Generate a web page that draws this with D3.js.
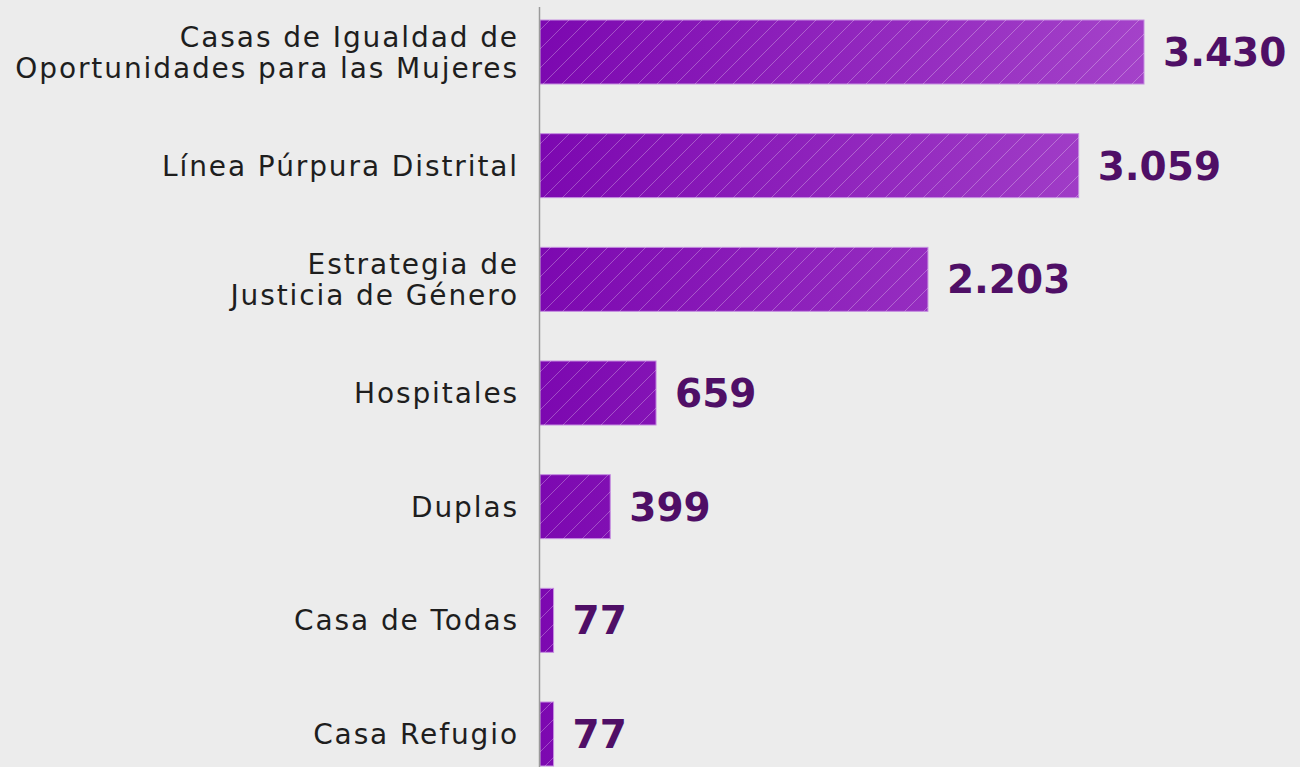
<!DOCTYPE html>
<html>
<head>
<meta charset="utf-8">
<script src="https://cdn.jsdelivr.net/npm/d3@7"></script>
<style>
  html, body { margin: 0; padding: 0; background: #ececec; }
  svg { display: block; }
</style>
</head>
<body>
<div id="chart"></div>
<script>
// data
var categories = [
  "Casas de Igualdad de|Oportunidades para las Mujeres",
  "Línea Púrpura Distrital",
  "Estrategia de|Justicia de Género",
  "Hospitales",
  "Duplas",
  "Casa de Todas",
  "Casa Refugio"
];
var values = [3430, 3059, 2203, 659, 399, 77, 77];
var valueLabels = ["3.430", "3.059", "2.203", "659", "399", "77", "77"];

const width = 1300, height = 767;
const axisX = 540;

var svg = d3.select("#chart").append("svg")
  .attr("width", width)
  .attr("height", height);

// paper-ish background
svg.append("rect").attr("width", width).attr("height", height).attr("fill", "#ececec");

var defs = svg.append("defs");

// gradient along the whole value range
var grad = defs.append("linearGradient")
  .attr("id", "barGrad")
  .attr("gradientUnits", "userSpaceOnUse")
  .attr("x1", axisX).attr("x2", 1144).attr("y1", 0).attr("y2", 0);
grad.append("stop").attr("offset", "0%").attr("stop-color", "#7c08b0");
grad.append("stop").attr("offset", "100%").attr("stop-color", "#a442c9");

// diagonal hatch
var hatch = defs.append("pattern")
  .attr("id", "hatch")
  .attr("patternUnits", "userSpaceOnUse")
  .attr("width", 19).attr("height", 19);
hatch.append("path")
  .attr("d", "M-2,2 L2,-2 M0,19 L19,0 M17,21 L21,17")
  .attr("stroke", "#ffffff")
  .attr("stroke-opacity", 0.28)
  .attr("stroke-width", 1);

var x = d3.scaleLinear()
  .domain([0, 3430])
  .range([axisX, 1144]);

var y = d3.scaleBand()
  .domain(categories)
  .range([20, 766])
  .paddingInner(0.437)
  .paddingOuter(0);

var bars = svg.selectAll("g.bar")
  .data(categories)
  .enter()
  .append("g")
  .attr("class", "bar");

bars.append("rect")
  .attr("x", x(0))
  .attr("y", d => y(d))
  .attr("width", (d, i) => x(values[i]) - x(0))
  .attr("height", y.bandwidth())
  .attr("fill", "url(#barGrad)")
  .attr("stroke", "#c58ee0")
  .attr("stroke-width", 1);

bars.append("rect")
  .attr("x", x(0))
  .attr("y", d => y(d))
  .attr("width", (d, i) => x(values[i]) - x(0))
  .attr("height", y.bandwidth())
  .attr("fill", "url(#hatch)");

// value labels
bars.append("text")
  .attr("x", (d, i) => x(values[i]) + 19)
  .attr("y", d => y(d) + y.bandwidth() / 2)
  .attr("dy", "0.36em")
  .attr("fill", "#4f0f66")
  .style("font-family", "'DejaVu Sans', sans-serif")
  .style("font-weight", "bold")
  .style("font-size", "39px")
  .text((d, i) => valueLabels[i]);

// category labels (split on |)
bars.each(function (d) {
  var lines = d.split("|");
  var cy = y(d) + y.bandwidth() / 2;
  var t = d3.select(this).append("text")
    .attr("x", 519)
    .attr("text-anchor", "end")
    .attr("fill", "#1e1e1e")
    .style("font-family", "'DejaVu Sans', sans-serif")
    .style("font-size", "28px")
    .style("letter-spacing", "1.9px");
  lines.forEach(function (line, j) {
    t.append("tspan")
      .attr("x", 519)
      .attr("y", cy + (j - (lines.length - 1) / 2) * 31)
      .attr("dy", "0.36em")
      .text(line);
  });
});

// vertical axis line
svg.append("line")
  .attr("x1", axisX - 0.5).attr("x2", axisX - 0.5)
  .attr("y1", 7).attr("y2", height)
  .attr("stroke", "#9a9a9a")
  .attr("stroke-width", 1.5);
</script>
</body>
</html>
